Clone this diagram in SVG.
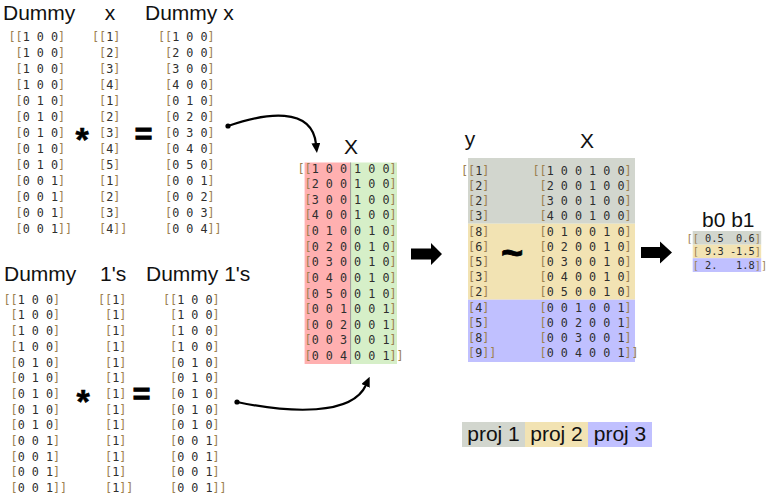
<svg xmlns="http://www.w3.org/2000/svg" width="768" height="504" viewBox="0 0 768 504">
<defs>
<style>
.h{font-family:"Liberation Sans",Arial,sans-serif;font-size:21px;fill:#111}
.m{font-family:"DejaVu Sans Mono",monospace;font-size:11.76px;fill:#2e2e2e}
.s{font-size:10.3px}
.k{fill:#9c8050}
.op{font-family:"Liberation Sans",Arial,sans-serif;font-weight:bold;fill:#000;stroke:#000}
.con{fill:none;stroke:#000;stroke-width:2.2}
.blk{fill:#000}
.g1{fill:#d2d6ce}.g2{fill:#f2e3b3}.g3{fill:#c0c0ff}
</style>
<marker id="ah" viewBox="0 0 10 9" refX="1" refY="4.5" markerWidth="10" markerHeight="9" markerUnits="userSpaceOnUse" orient="auto"><path d="M0,0 L10,4.5 L0,9 z" fill="#000"/></marker>
</defs>
<rect width="768" height="504" fill="#fff"/>

<g id="dummy-top">
<text class="h" x="3" y="20">Dummy</text>
<text class="m"><tspan x="8.5" y="41.3"><tspan class="k">[[</tspan>1 0 0<tspan class="k">]</tspan></tspan><tspan x="15.58" y="57.3"><tspan class="k">[</tspan>1 0 0<tspan class="k">]</tspan></tspan><tspan x="15.58" y="73.3"><tspan class="k">[</tspan>1 0 0<tspan class="k">]</tspan></tspan><tspan x="15.58" y="89.3"><tspan class="k">[</tspan>1 0 0<tspan class="k">]</tspan></tspan><tspan x="15.58" y="105.3"><tspan class="k">[</tspan>0 1 0<tspan class="k">]</tspan></tspan><tspan x="15.58" y="121.3"><tspan class="k">[</tspan>0 1 0<tspan class="k">]</tspan></tspan><tspan x="15.58" y="137.3"><tspan class="k">[</tspan>0 1 0<tspan class="k">]</tspan></tspan><tspan x="15.58" y="153.3"><tspan class="k">[</tspan>0 1 0<tspan class="k">]</tspan></tspan><tspan x="15.58" y="169.3"><tspan class="k">[</tspan>0 1 0<tspan class="k">]</tspan></tspan><tspan x="15.58" y="185.3"><tspan class="k">[</tspan>0 0 1<tspan class="k">]</tspan></tspan><tspan x="15.58" y="201.3"><tspan class="k">[</tspan>0 0 1<tspan class="k">]</tspan></tspan><tspan x="15.58" y="217.3"><tspan class="k">[</tspan>0 0 1<tspan class="k">]</tspan></tspan><tspan x="15.58" y="233.3"><tspan class="k">[</tspan>0 0 1<tspan class="k">]]</tspan></tspan></text>
</g>

<g id="x-vector">
<text class="h" x="110" y="20" text-anchor="middle">x</text>
<text class="m"><tspan x="92" y="41.3"><tspan class="k">[[</tspan>1<tspan class="k">]</tspan></tspan><tspan x="99.08" y="57.3"><tspan class="k">[</tspan>2<tspan class="k">]</tspan></tspan><tspan x="99.08" y="73.3"><tspan class="k">[</tspan>3<tspan class="k">]</tspan></tspan><tspan x="99.08" y="89.3"><tspan class="k">[</tspan>4<tspan class="k">]</tspan></tspan><tspan x="99.08" y="105.3"><tspan class="k">[</tspan>1<tspan class="k">]</tspan></tspan><tspan x="99.08" y="121.3"><tspan class="k">[</tspan>2<tspan class="k">]</tspan></tspan><tspan x="99.08" y="137.3"><tspan class="k">[</tspan>3<tspan class="k">]</tspan></tspan><tspan x="99.08" y="153.3"><tspan class="k">[</tspan>4<tspan class="k">]</tspan></tspan><tspan x="99.08" y="169.3"><tspan class="k">[</tspan>5<tspan class="k">]</tspan></tspan><tspan x="99.08" y="185.3"><tspan class="k">[</tspan>1<tspan class="k">]</tspan></tspan><tspan x="99.08" y="201.3"><tspan class="k">[</tspan>2<tspan class="k">]</tspan></tspan><tspan x="99.08" y="217.3"><tspan class="k">[</tspan>3<tspan class="k">]</tspan></tspan><tspan x="99.08" y="233.3"><tspan class="k">[</tspan>4<tspan class="k">]]</tspan></tspan></text>
<text class="op" x="82" y="150.7" font-size="34" text-anchor="middle" stroke-width="0.6">*</text>
<text class="op" x="143.5" y="144" font-size="30" text-anchor="middle" stroke-width="1.2">=</text>
</g>

<g id="dummy-x">
<text class="h" x="145" y="20">Dummy x</text>
<text class="m"><tspan x="158" y="41.3"><tspan class="k">[[</tspan>1 0 0<tspan class="k">]</tspan></tspan><tspan x="165.08" y="57.3"><tspan class="k">[</tspan>2 0 0<tspan class="k">]</tspan></tspan><tspan x="165.08" y="73.3"><tspan class="k">[</tspan>3 0 0<tspan class="k">]</tspan></tspan><tspan x="165.08" y="89.3"><tspan class="k">[</tspan>4 0 0<tspan class="k">]</tspan></tspan><tspan x="165.08" y="105.3"><tspan class="k">[</tspan>0 1 0<tspan class="k">]</tspan></tspan><tspan x="165.08" y="121.3"><tspan class="k">[</tspan>0 2 0<tspan class="k">]</tspan></tspan><tspan x="165.08" y="137.3"><tspan class="k">[</tspan>0 3 0<tspan class="k">]</tspan></tspan><tspan x="165.08" y="153.3"><tspan class="k">[</tspan>0 4 0<tspan class="k">]</tspan></tspan><tspan x="165.08" y="169.3"><tspan class="k">[</tspan>0 5 0<tspan class="k">]</tspan></tspan><tspan x="165.08" y="185.3"><tspan class="k">[</tspan>0 0 1<tspan class="k">]</tspan></tspan><tspan x="165.08" y="201.3"><tspan class="k">[</tspan>0 0 2<tspan class="k">]</tspan></tspan><tspan x="165.08" y="217.3"><tspan class="k">[</tspan>0 0 3<tspan class="k">]</tspan></tspan><tspan x="165.08" y="233.3"><tspan class="k">[</tspan>0 0 4<tspan class="k">]]</tspan></tspan></text>
</g>

<g id="dummy-bottom">
<text class="h" x="4" y="281">Dummy</text>
<text class="m"><tspan x="3.5" y="303.7"><tspan class="k">[[</tspan>1 0 0<tspan class="k">]</tspan></tspan><tspan x="10.58" y="319.4"><tspan class="k">[</tspan>1 0 0<tspan class="k">]</tspan></tspan><tspan x="10.58" y="335.1"><tspan class="k">[</tspan>1 0 0<tspan class="k">]</tspan></tspan><tspan x="10.58" y="350.8"><tspan class="k">[</tspan>1 0 0<tspan class="k">]</tspan></tspan><tspan x="10.58" y="366.5"><tspan class="k">[</tspan>0 1 0<tspan class="k">]</tspan></tspan><tspan x="10.58" y="382.2"><tspan class="k">[</tspan>0 1 0<tspan class="k">]</tspan></tspan><tspan x="10.58" y="397.9"><tspan class="k">[</tspan>0 1 0<tspan class="k">]</tspan></tspan><tspan x="10.58" y="413.6"><tspan class="k">[</tspan>0 1 0<tspan class="k">]</tspan></tspan><tspan x="10.58" y="429.3"><tspan class="k">[</tspan>0 1 0<tspan class="k">]</tspan></tspan><tspan x="10.58" y="445"><tspan class="k">[</tspan>0 0 1<tspan class="k">]</tspan></tspan><tspan x="10.58" y="460.7"><tspan class="k">[</tspan>0 0 1<tspan class="k">]</tspan></tspan><tspan x="10.58" y="476.4"><tspan class="k">[</tspan>0 0 1<tspan class="k">]</tspan></tspan><tspan x="10.58" y="492.1"><tspan class="k">[</tspan>0 0 1<tspan class="k">]]</tspan></tspan></text>
</g>

<g id="ones-vector">
<text class="h" x="100" y="281">1's</text>
<text class="m"><tspan x="98" y="303.7"><tspan class="k">[[</tspan>1<tspan class="k">]</tspan></tspan><tspan x="105.08" y="319.4"><tspan class="k">[</tspan>1<tspan class="k">]</tspan></tspan><tspan x="105.08" y="335.1"><tspan class="k">[</tspan>1<tspan class="k">]</tspan></tspan><tspan x="105.08" y="350.8"><tspan class="k">[</tspan>1<tspan class="k">]</tspan></tspan><tspan x="105.08" y="366.5"><tspan class="k">[</tspan>1<tspan class="k">]</tspan></tspan><tspan x="105.08" y="382.2"><tspan class="k">[</tspan>1<tspan class="k">]</tspan></tspan><tspan x="105.08" y="397.9"><tspan class="k">[</tspan>1<tspan class="k">]</tspan></tspan><tspan x="105.08" y="413.6"><tspan class="k">[</tspan>1<tspan class="k">]</tspan></tspan><tspan x="105.08" y="429.3"><tspan class="k">[</tspan>1<tspan class="k">]</tspan></tspan><tspan x="105.08" y="445"><tspan class="k">[</tspan>1<tspan class="k">]</tspan></tspan><tspan x="105.08" y="460.7"><tspan class="k">[</tspan>1<tspan class="k">]</tspan></tspan><tspan x="105.08" y="476.4"><tspan class="k">[</tspan>1<tspan class="k">]</tspan></tspan><tspan x="105.08" y="492.1"><tspan class="k">[</tspan>1<tspan class="k">]]</tspan></tspan></text>
<text class="op" x="83" y="412.7" font-size="34" text-anchor="middle" stroke-width="0.6">*</text>
<text class="op" x="141.5" y="403.5" font-size="30" text-anchor="middle" stroke-width="1.2">=</text>
</g>

<g id="dummy-ones">
<text class="h" x="146" y="281">Dummy 1's</text>
<text class="m"><tspan x="163" y="303.7"><tspan class="k">[[</tspan>1 0 0<tspan class="k">]</tspan></tspan><tspan x="170.08" y="319.4"><tspan class="k">[</tspan>1 0 0<tspan class="k">]</tspan></tspan><tspan x="170.08" y="335.1"><tspan class="k">[</tspan>1 0 0<tspan class="k">]</tspan></tspan><tspan x="170.08" y="350.8"><tspan class="k">[</tspan>1 0 0<tspan class="k">]</tspan></tspan><tspan x="170.08" y="366.5"><tspan class="k">[</tspan>0 1 0<tspan class="k">]</tspan></tspan><tspan x="170.08" y="382.2"><tspan class="k">[</tspan>0 1 0<tspan class="k">]</tspan></tspan><tspan x="170.08" y="397.9"><tspan class="k">[</tspan>0 1 0<tspan class="k">]</tspan></tspan><tspan x="170.08" y="413.6"><tspan class="k">[</tspan>0 1 0<tspan class="k">]</tspan></tspan><tspan x="170.08" y="429.3"><tspan class="k">[</tspan>0 1 0<tspan class="k">]</tspan></tspan><tspan x="170.08" y="445"><tspan class="k">[</tspan>0 0 1<tspan class="k">]</tspan></tspan><tspan x="170.08" y="460.7"><tspan class="k">[</tspan>0 0 1<tspan class="k">]</tspan></tspan><tspan x="170.08" y="476.4"><tspan class="k">[</tspan>0 0 1<tspan class="k">]</tspan></tspan><tspan x="170.08" y="492.1"><tspan class="k">[</tspan>0 0 1<tspan class="k">]]</tspan></tspan></text>
</g>

<g id="design-X">
<text class="h" x="351" y="154" text-anchor="middle">X</text>
<rect x="304.6" y="162.5" width="46" height="201.5" fill="#ffb0b0"/>
<rect x="350.6" y="162.5" width="46.4" height="201.5" fill="#d6efc8"/>
<line x1="350.6" y1="162.5" x2="350.6" y2="364" stroke="#9a9a9a" stroke-width="1"/>
<text class="m"><tspan x="297.5" y="172.5"><tspan class="k">[[</tspan>1 0 0 1 0 0<tspan class="k">]</tspan></tspan><tspan x="304.58" y="188.1"><tspan class="k">[</tspan>2 0 0 1 0 0<tspan class="k">]</tspan></tspan><tspan x="304.58" y="203.7"><tspan class="k">[</tspan>3 0 0 1 0 0<tspan class="k">]</tspan></tspan><tspan x="304.58" y="219.4"><tspan class="k">[</tspan>4 0 0 1 0 0<tspan class="k">]</tspan></tspan><tspan x="304.58" y="235"><tspan class="k">[</tspan>0 1 0 0 1 0<tspan class="k">]</tspan></tspan><tspan x="304.58" y="250.6"><tspan class="k">[</tspan>0 2 0 0 1 0<tspan class="k">]</tspan></tspan><tspan x="304.58" y="266.2"><tspan class="k">[</tspan>0 3 0 0 1 0<tspan class="k">]</tspan></tspan><tspan x="304.58" y="281.8"><tspan class="k">[</tspan>0 4 0 0 1 0<tspan class="k">]</tspan></tspan><tspan x="304.58" y="297.5"><tspan class="k">[</tspan>0 5 0 0 1 0<tspan class="k">]</tspan></tspan><tspan x="304.58" y="313.1"><tspan class="k">[</tspan>0 0 1 0 0 1<tspan class="k">]</tspan></tspan><tspan x="304.58" y="328.7"><tspan class="k">[</tspan>0 0 2 0 0 1<tspan class="k">]</tspan></tspan><tspan x="304.58" y="344.3"><tspan class="k">[</tspan>0 0 3 0 0 1<tspan class="k">]</tspan></tspan><tspan x="304.58" y="359.9"><tspan class="k">[</tspan>0 0 4 0 0 1<tspan class="k">]]</tspan></tspan></text>
</g>

<g id="model">
<rect class="g1" x="468" y="158" width="167" height="65.7"/>
<rect class="g2" x="468" y="223.7" width="167" height="76"/>
<rect class="g3" x="468" y="299.7" width="167" height="62.3"/>
<text class="h" x="470" y="146" text-anchor="middle">y</text>
<text class="h" x="587" y="148" text-anchor="middle">X</text>
<text class="m"><tspan x="461" y="174.7"><tspan class="k">[[</tspan>1<tspan class="k">]</tspan></tspan><tspan x="468.08" y="189.9"><tspan class="k">[</tspan>2<tspan class="k">]</tspan></tspan><tspan x="468.08" y="205.1"><tspan class="k">[</tspan>2<tspan class="k">]</tspan></tspan><tspan x="468.08" y="220.3"><tspan class="k">[</tspan>3<tspan class="k">]</tspan></tspan><tspan x="468.08" y="235.5"><tspan class="k">[</tspan>8<tspan class="k">]</tspan></tspan><tspan x="468.08" y="250.7"><tspan class="k">[</tspan>6<tspan class="k">]</tspan></tspan><tspan x="468.08" y="265.9"><tspan class="k">[</tspan>5<tspan class="k">]</tspan></tspan><tspan x="468.08" y="281.1"><tspan class="k">[</tspan>3<tspan class="k">]</tspan></tspan><tspan x="468.08" y="296.3"><tspan class="k">[</tspan>2<tspan class="k">]</tspan></tspan><tspan x="468.08" y="311.5"><tspan class="k">[</tspan>4<tspan class="k">]</tspan></tspan><tspan x="468.08" y="326.7"><tspan class="k">[</tspan>5<tspan class="k">]</tspan></tspan><tspan x="468.08" y="341.9"><tspan class="k">[</tspan>8<tspan class="k">]</tspan></tspan><tspan x="468.08" y="357.1"><tspan class="k">[</tspan>9<tspan class="k">]]</tspan></tspan></text>
<text class="op" x="512" y="266" font-size="38" text-anchor="middle" stroke-width="0.8">~</text>
<text class="m"><tspan x="532.5" y="174.7"><tspan class="k">[[</tspan>1 0 0 1 0 0<tspan class="k">]</tspan></tspan><tspan x="539.58" y="189.9"><tspan class="k">[</tspan>2 0 0 1 0 0<tspan class="k">]</tspan></tspan><tspan x="539.58" y="205.1"><tspan class="k">[</tspan>3 0 0 1 0 0<tspan class="k">]</tspan></tspan><tspan x="539.58" y="220.3"><tspan class="k">[</tspan>4 0 0 1 0 0<tspan class="k">]</tspan></tspan><tspan x="539.58" y="235.5"><tspan class="k">[</tspan>0 1 0 0 1 0<tspan class="k">]</tspan></tspan><tspan x="539.58" y="250.7"><tspan class="k">[</tspan>0 2 0 0 1 0<tspan class="k">]</tspan></tspan><tspan x="539.58" y="265.9"><tspan class="k">[</tspan>0 3 0 0 1 0<tspan class="k">]</tspan></tspan><tspan x="539.58" y="281.1"><tspan class="k">[</tspan>0 4 0 0 1 0<tspan class="k">]</tspan></tspan><tspan x="539.58" y="296.3"><tspan class="k">[</tspan>0 5 0 0 1 0<tspan class="k">]</tspan></tspan><tspan x="539.58" y="311.5"><tspan class="k">[</tspan>0 0 1 0 0 1<tspan class="k">]</tspan></tspan><tspan x="539.58" y="326.7"><tspan class="k">[</tspan>0 0 2 0 0 1<tspan class="k">]</tspan></tspan><tspan x="539.58" y="341.9"><tspan class="k">[</tspan>0 0 3 0 0 1<tspan class="k">]</tspan></tspan><tspan x="539.58" y="357.1"><tspan class="k">[</tspan>0 0 4 0 0 1<tspan class="k">]]</tspan></tspan></text>
</g>

<g id="coefficients">
<text class="h" x="702" y="227">b0 b1</text>
<rect class="g1" x="692.7" y="231" width="68.5" height="13.7"/>
<rect class="g2" x="692.7" y="244.7" width="68.5" height="13.5"/>
<rect class="g3" x="692.7" y="258.2" width="68.5" height="13.8"/>
<text class="m s" x="686.5" y="241.7" xml:space="preserve"><tspan class="k">[[</tspan> 0.5  0.6<tspan class="k">]</tspan></text>
<text class="m s" x="686.5" y="255.2" xml:space="preserve"> <tspan class="k">[</tspan> 9.3 -1.5<tspan class="k">]</tspan></text>
<text class="m s" x="686.5" y="268.7" xml:space="preserve"> <tspan class="k">[</tspan> 2.   1.8<tspan class="k">]]</tspan></text>
</g>

<g id="legend">
<rect class="g1" x="462" y="422" width="63" height="25"/>
<rect class="g2" x="525" y="422" width="63" height="25"/>
<rect class="g3" x="588" y="422" width="64" height="25"/>
<text class="h" x="493.5" y="440.5" text-anchor="middle" font-size="20.5">proj 1</text>
<text class="h" x="556.5" y="440.5" text-anchor="middle" font-size="20.5">proj 2</text>
<text class="h" x="620" y="440.5" text-anchor="middle" font-size="20.5">proj 3</text>
</g>

<g id="connectors">
<circle cx="228" cy="126" r="2.6" fill="#000"/>
<path class="con" d="M228,126 C265,113 312,106 316,144" marker-end="url(#ah)"/>
<circle cx="237" cy="402" r="2.6" fill="#000"/>
<path class="con" d="M237,402 C290,413 352,416 366,385" marker-end="url(#ah)"/>
<path class="blk" d="M411,248.5 H431 V243 L442,254 L431,265 V259.5 H411 Z"/>
<path class="blk" d="M641,247 H660 V241.5 L672,252.5 L660,263.5 V258 H641 Z"/>
</g>
</svg>
